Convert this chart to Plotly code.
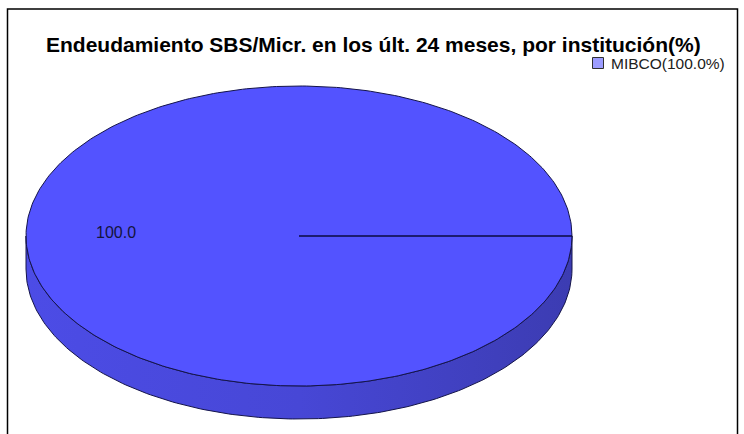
import numpy as np
import plotly.graph_objects as go

# ---- data ----
institutions = ["MIBCO"]
shares = [100.0]
title_text = "Endeudamiento SBS/Micr. en los últ. 24 meses, por institución(%)"

# ---- geometry (page pixel space) ----
W, H = 744, 434
CX, CY = 299, 236
RX, RY = 273, 150
DEPTH = 33
FONT = "Liberation Sans, Arial, sans-serif"

fig = go.Figure()

total = sum(shares)
fracs = [v / total for v in shares]

# side wall (lower half of the disc)
t = np.linspace(0, np.pi, 200)
top_x = CX + RX * np.cos(t)
top_y = CY + RY * np.sin(t)
side_x = np.concatenate([top_x, top_x[::-1], [top_x[0]]])
side_y = np.concatenate([top_y, top_y[::-1] + DEPTH, [top_y[0]]])
fig.add_trace(go.Scatter(
    x=side_x, y=side_y, mode="lines", fill="toself",
    line=dict(color="#14144a", width=1),
    fillcolor="#4646d4",
    fillgradient=dict(type="horizontal",
                      colorscale=[[0, "#4c4ce6"], [0.5, "#4747d6"], [1, "#3c3cb2"]]),
    hoverinfo="skip", showlegend=False))

# top face
tt = np.linspace(0, 2 * np.pi, 400)
fig.add_trace(go.Scatter(
    x=CX + RX * np.cos(tt), y=CY - RY * np.sin(tt), mode="lines", fill="toself",
    line=dict(color="#14144a", width=1), fillcolor="#5353ff",
    hoverinfo="skip", showlegend=False))

# slice boundaries and labels
start = 0.0
for name, f, v in zip(institutions, fracs, shares):
    a0 = start * 2 * np.pi
    fig.add_trace(go.Scatter(
        x=[CX, CX + RX * np.cos(a0)], y=[CY, CY - RY * np.sin(a0)], mode="lines",
        line=dict(color="#0a0a40", width=1.5), hoverinfo="skip", showlegend=False))
    mid = (start + f / 2) * 2 * np.pi
    fig.add_trace(go.Scatter(
        x=[CX + 0.67 * RX * np.cos(mid)], y=[CY - 0.67 * RY * np.sin(mid) - 2],
        mode="text", text=[f"{v:.1f}"],
        textfont=dict(family=FONT, size=16, color="#14143c"),
        hoverinfo="skip", showlegend=False))
    start += f

# legend (manual)
for i, (name, v) in enumerate(zip(institutions, shares)):
    ly = 63 + i * 16
    fig.add_trace(go.Scatter(
        x=[598], y=[ly], mode="markers",
        marker=dict(symbol="square", size=11, color="#9c9cff",
                    line=dict(color="#303030", width=1)),
        hoverinfo="skip", showlegend=False))
    fig.add_annotation(x=609, y=ly, xref="x", yref="y", text=f"{name}({v:.1f}%)",
                       showarrow=False, xanchor="left", yanchor="middle",
                       font=dict(family=FONT, size=15.5, color="#202020"))

fig.add_annotation(x=373, y=44, xref="x", yref="y", text=f"<b>{title_text}</b>",
                   showarrow=False, xanchor="center", yanchor="middle",
                   font=dict(family=FONT, size=21, color="#000000"))

fig.add_shape(type="rect", x0=7.5, y0=9, x1=737.5, y1=450, xref="x", yref="y",
              line=dict(color="#000000", width=1.5))

fig.update_layout(
    width=W, height=H, autosize=False,
    margin=dict(l=0, r=0, t=0, b=0),
    paper_bgcolor="white", plot_bgcolor="white",
    xaxis=dict(range=[0, W], visible=False, fixedrange=True),
    yaxis=dict(range=[H, 0], visible=False, fixedrange=True),
    showlegend=False,
)

fig.write_html("out.html", config={"displayModeBar": False, "staticPlot": True},
               post_script="document.body.style.margin='0';document.body.style.overflow='hidden';")
